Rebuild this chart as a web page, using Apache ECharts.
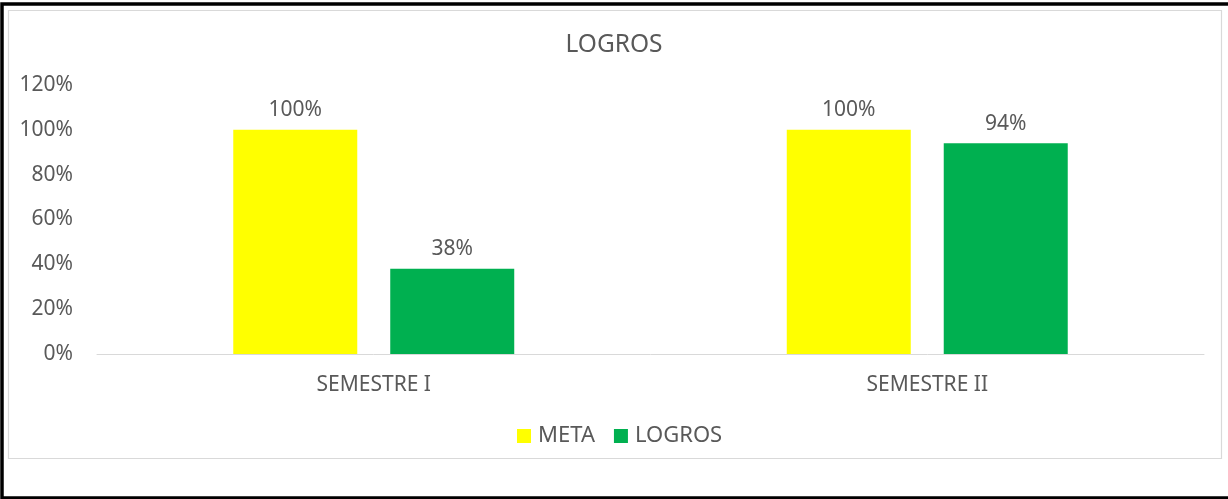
<!DOCTYPE html>
<html>
<head>
<meta charset="utf-8">
<title>LOGROS</title>
<script src="https://cdn.jsdelivr.net/npm/echarts@6/dist/echarts.min.js"></script>
<style>
  html, body { margin: 0; padding: 0; background: #ffffff; }
  #chart { width: 1228px; height: 499px; }
</style>
</head>
<body>
<div id="chart"></div>
<script>
// Semesters and their target / achieved ratios
const categories = ['SEMESTRE I', 'SEMESTRE II'];
const metaValues = [1.00, 1.00];
const logrosValues = [0.38, 0.94];
const yTicks = [0, 0.2, 0.4, 0.6, 0.8, 1.0, 1.2];

const FONT = '"Noto Sans", sans-serif';
const TEXT = '#595959';
const pct = v => Math.round(v * 100) + '%';

const chart = echarts.init(document.getElementById('chart'), null, { renderer: 'canvas' });

chart.setOption({
  backgroundColor: '#ffffff',
  animation: false,
  textStyle: { fontFamily: FONT },
  graphic: [
    // outer dark frame
    { type: 'rect', shape: { x: 2, y: 4, width: 1240, height: 494 }, style: { fill: 'none', stroke: '#000000', lineWidth: 3.5 }, silent: true },
    // chart area border
    { type: 'rect', shape: { x: 8.5, y: 10.5, width: 1213, height: 448 }, style: { fill: 'none', stroke: '#D9D9D9', lineWidth: 1.2 }, silent: true }
  ],
  title: {
    text: 'LOGROS',
    left: 'center',
    top: 28,
    textStyle: { fontFamily: FONT, fontSize: 24.5, fontWeight: 'normal', color: TEXT }
  },
  legend: {
    left: 512,
    top: 420,
    itemWidth: 14,
    itemHeight: 14,
    itemGap: 19,
    icon: 'rect',
    textStyle: { fontFamily: FONT, fontSize: 22, color: TEXT, padding: [0, 0, 0, 2] },
    data: ['META', 'LOGROS']
  },
  grid: { left: 97, right: 24, top: 85, bottom: 145, containLabel: false },
  xAxis: {
    type: 'category',
    data: categories,
    axisLine: { show: true, lineStyle: { color: '#D9D9D9', width: 1 } },
    axisTick: { show: false },
    axisLabel: { fontFamily: FONT, fontSize: 21, color: TEXT, margin: 21 }
  },
  yAxis: {
    type: 'value',
    min: 0,
    max: yTicks[yTicks.length - 1],
    interval: 0.2,
    splitLine: { show: false },
    axisLine: { show: false },
    axisTick: { show: false },
    axisLabel: { fontFamily: FONT, fontSize: 21, color: TEXT, margin: 24, formatter: pct }
  },
  series: [
    {
      name: 'META',
      type: 'bar',
      data: metaValues,
      barWidth: 124,
      barGap: '26.6%',
      itemStyle: { color: '#FFFF00' },
      label: { show: true, position: 'top', distance: 9, fontFamily: FONT, fontSize: 21, color: TEXT, formatter: p => pct(p.value) }
    },
    {
      name: 'LOGROS',
      type: 'bar',
      data: logrosValues,
      barWidth: 124,
      barGap: '26.6%',
      itemStyle: { color: '#00B050' },
      label: { show: true, position: 'top', distance: 9, fontFamily: FONT, fontSize: 21, color: TEXT, formatter: p => pct(p.value) }
    }
  ]
});
</script>
</body>
</html>
